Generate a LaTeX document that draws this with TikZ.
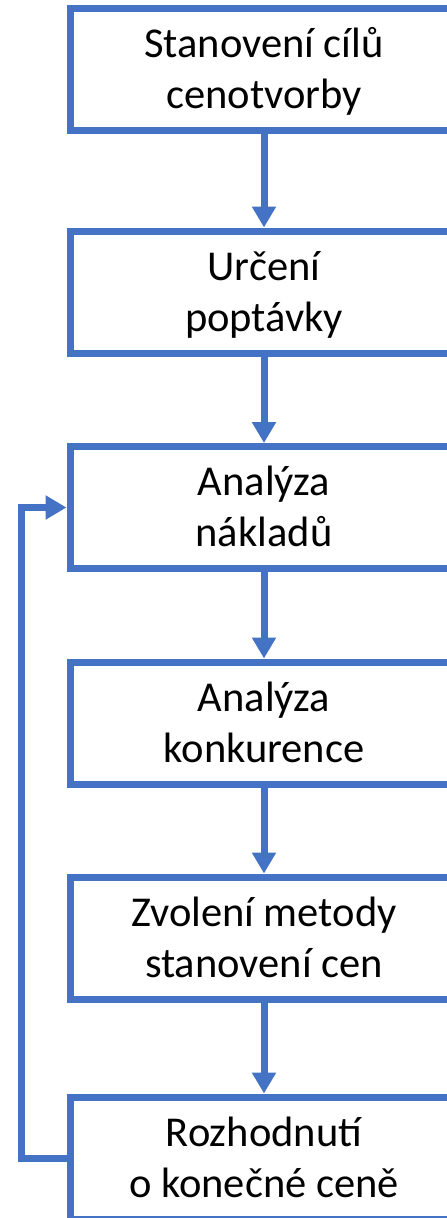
\documentclass[tikz,border=0pt]{standalone}
\usepackage{fontspec}
\setmainfont{Carlito}
\usetikzlibrary{arrows.meta}
\definecolor{offblue}{HTML}{4472C4}
\newcommand\mytop{\rule{0pt}{40pt}}
\newcommand\mybot{\rule[-13pt]{0pt}{13pt}}
\tikzset{
  stepbox/.style={draw=offblue, line width=7pt, fill=white, minimum width=388pt, minimum height=122pt,
    inner sep=0pt, align=center, font=\fontsize{42.5}{51}\selectfont, line join=miter},
  flow/.style={draw=offblue, line width=7pt, -{Triangle[length=21pt,width=23pt]}}
}
\begin{document}
\begin{tikzpicture}[x=1pt,y=1pt]
\clip (0,0) rectangle (447,-1218);
\fill[white] (0,0) rectangle (447,-1218);
\node[stepbox] (b1) at (264,-69) {\mytop Stanovení cílů\\cenotvorby\mybot};
\node[stepbox] (b2) at (264,-292) {\mytop Určení\\poptávky\mybot};
\node[stepbox] (b3) at (264,-507.5) {\mytop Analýza\\nákladů\mybot};
\node[stepbox] (b4) at (264,-723) {\mytop Analýza\\konkurence\mybot};
\node[stepbox] (b5) at (264,-938) {\mytop Zvolení metody\\stanovení cen\mybot};
\node[stepbox] (b6) at (264,-1158) {\mytop Rozhodnutí\\o konečné ceně\mybot};
\draw[flow] (b1) -- (b2);
\draw[flow] (b2) -- (b3);
\draw[flow] (b3) -- (b4);
\draw[flow] (b4) -- (b5);
\draw[flow] (b5) -- (b6);
\draw[flow] (b6.west) -- ++(-45.5,0) |- (b3.west);
\end{tikzpicture}
\end{document}
